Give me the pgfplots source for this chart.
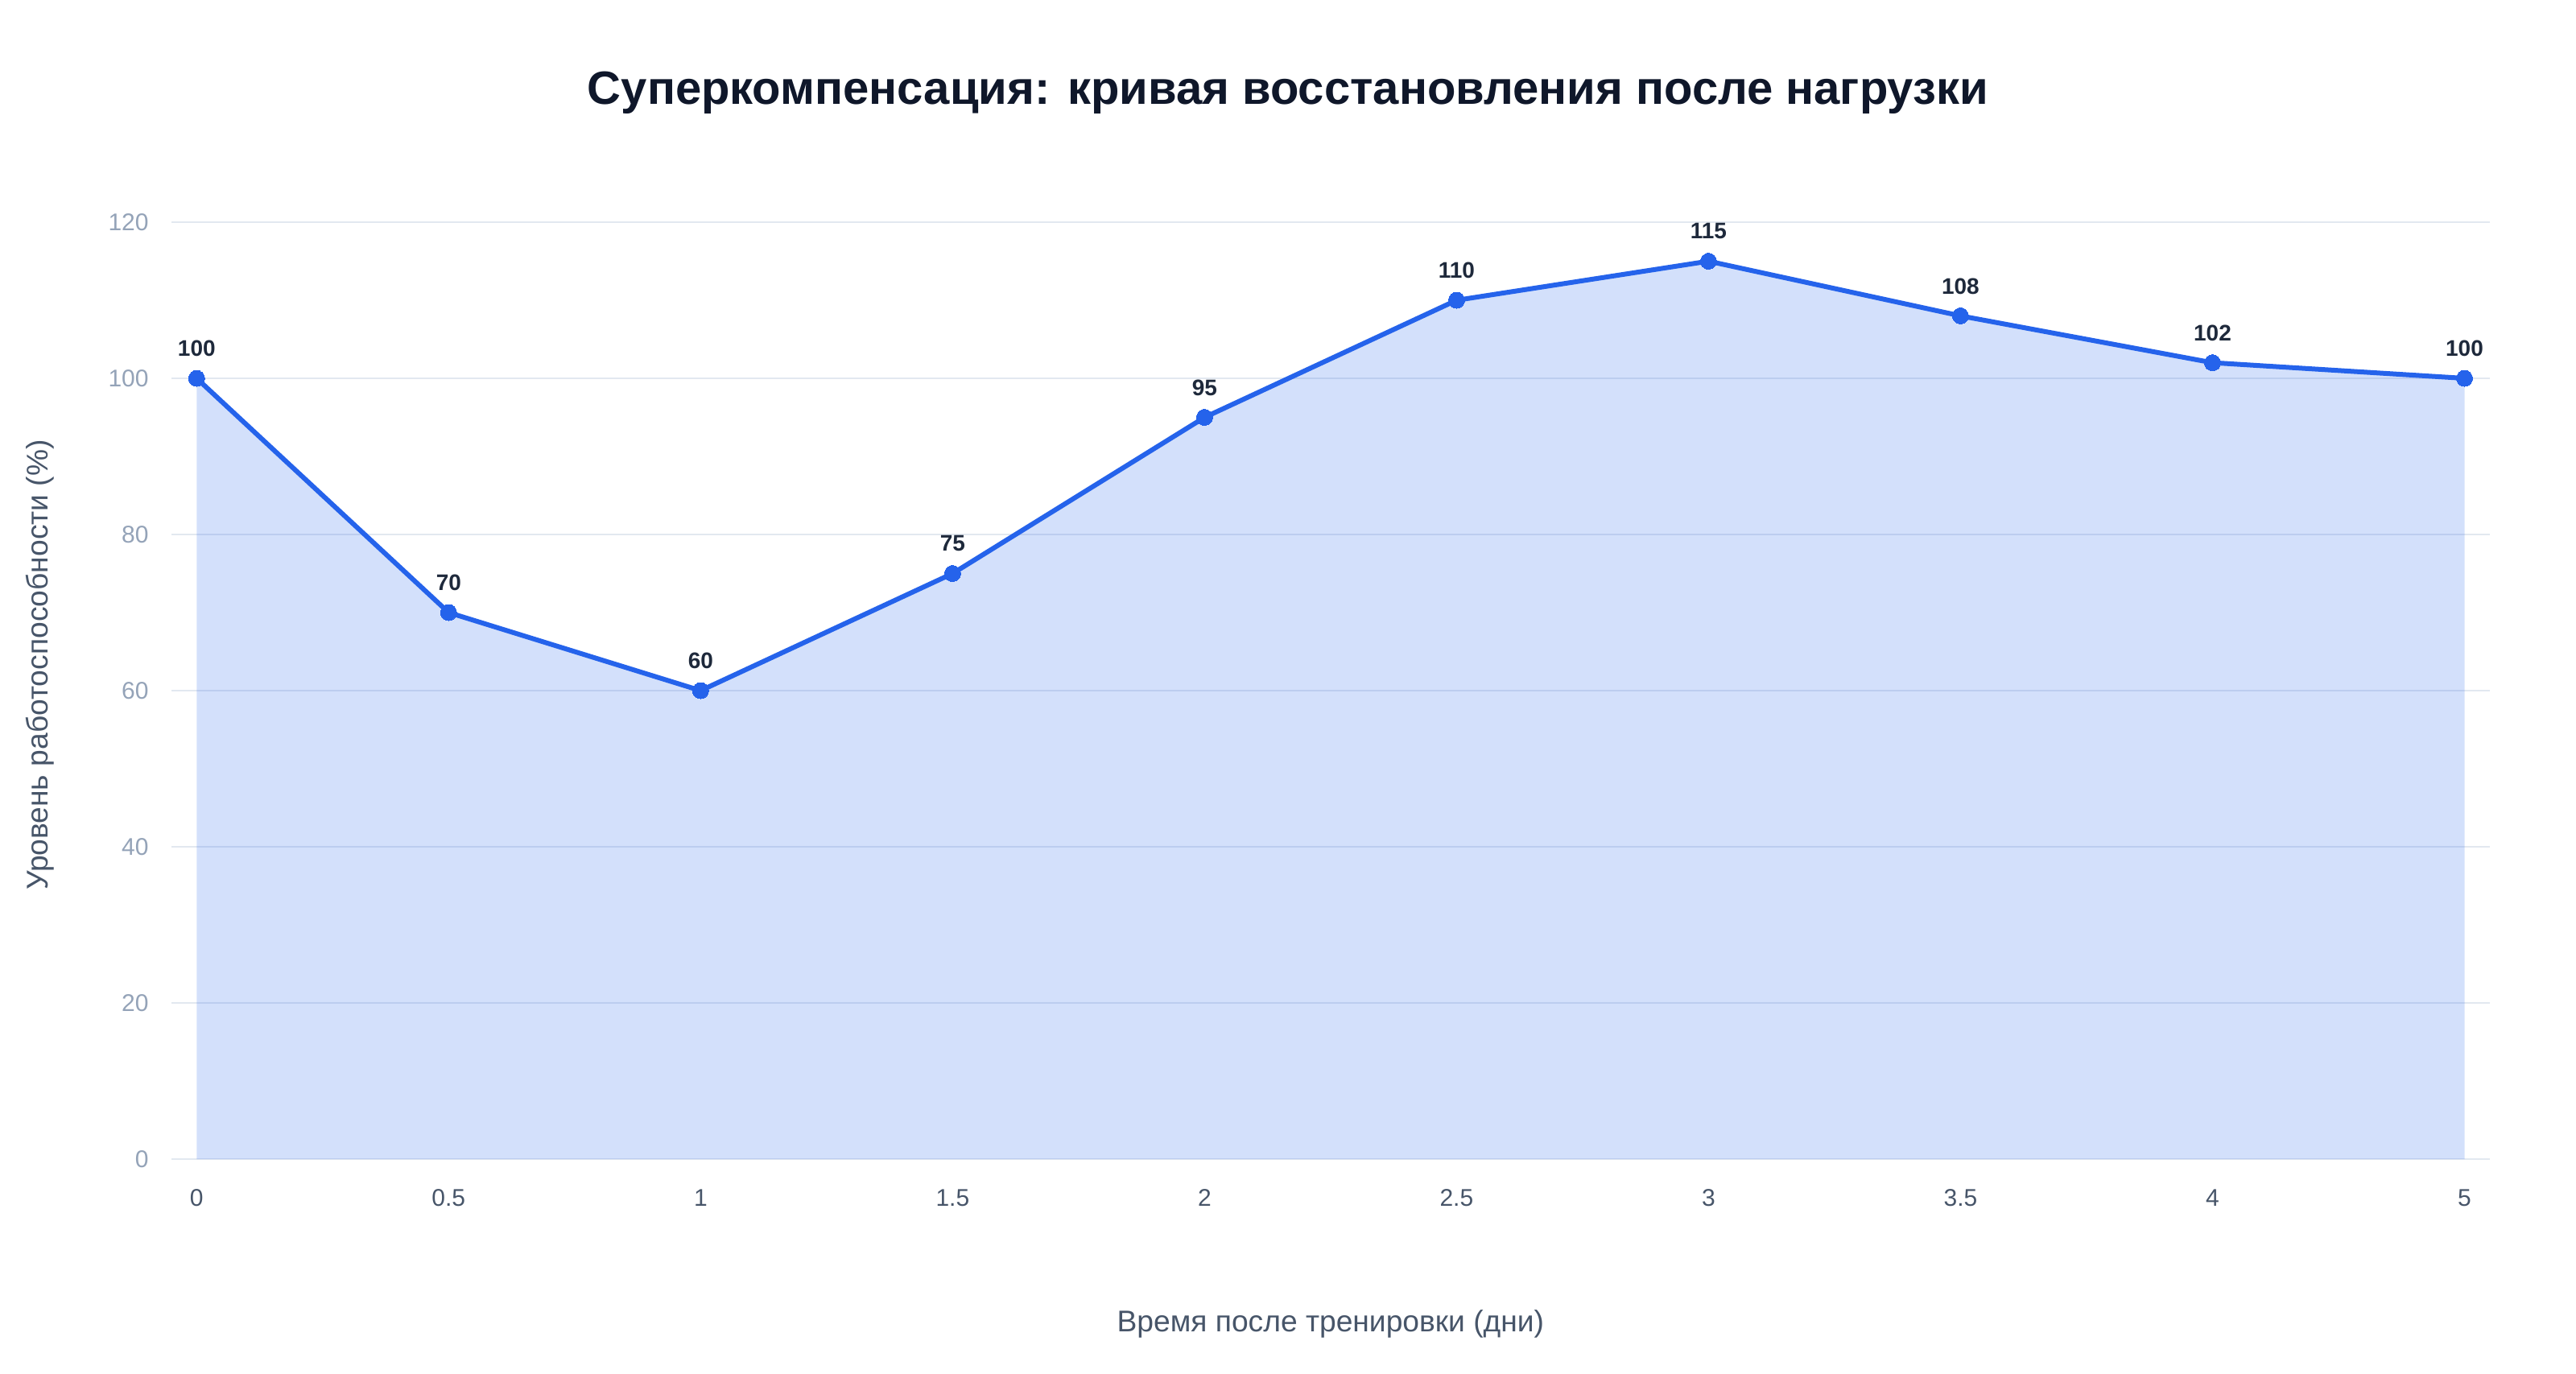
\documentclass[border=0pt]{standalone}
\usepackage{fontspec}
\setmainfont{Liberation Sans}
\usepackage{pgfplots}
\pgfplotsset{compat=1.18}
\definecolor{linecol}{HTML}{2563EB}
\definecolor{titlecol}{HTML}{0F172A}
\definecolor{labcol}{HTML}{1E293B}
\definecolor{axcol}{HTML}{475569}
\definecolor{ytcol}{HTML}{94A3B8}
\definecolor{gridcol}{HTML}{E2E8F0}
\pgfplotstableread{
x y
0 100
1 70
2 60
3 75
4 95
5 110
6 115
7 108
8 102
9 100
}\datatable
\begin{document}
\begin{tikzpicture}
\path[use as bounding box] (0,0) rectangle (1600pt,853.5pt);
\begin{axis}[
  at={(106.5pt,133.5pt)}, anchor=south west,
  scale only axis, width=1440pt, height=614pt,
  xmin=-0.1, xmax=9.1, ymin=0, ymax=126.6,
  clip=false,
  /pgf/number format/assume math mode=true,
  axis line style={draw=none},
  major tick length=0pt,
  xtick={0,...,9},
  xticklabels={0,0.5,1,1.5,2,2.5,3,3.5,4,5},
  ytick={0,20,40,60,80,100,120},
  ymajorgrids,
  grid style={gridcol, line width=1.2pt},
  xticklabel style={anchor=base, yshift=-29pt, inner sep=0pt, font=\fontsize{15}{18}\selectfont, text=axcol},
  yticklabel style={anchor=east, xshift=-14pt, inner sep=0pt, font=\fontsize{15}{18}\selectfont, text=ytcol},
  title={Суперкомпенсация: кривая восстановления после нагрузки},
  title style={at={(axis description cs:0.4816,1.0578)}, anchor=base, inner sep=0pt, font=\fontsize{29}{33}\selectfont\bfseries, text=titlecol},
  xlabel={Время после тренировки (дни)},
  xlabel style={at={(axis description cs:0.5,-0.167)}, anchor=center, font=\fontsize{18.6}{21}\selectfont, text=axcol},
  ylabel={Уровень работоспособности (\%)},
  ylabel style={at={(axis description cs:-0.0566,0.5)}, anchor=center, rotate=0, font=\fontsize{18.6}{21}\selectfont, text=axcol},
]
\addplot[draw=none, fill=linecol, fill opacity=0.2] table[x=x,y=y] {\datatable} \closedcycle;
\addplot[linecol, line width=3pt, mark=*, mark size=5pt, mark options={fill=linecol, draw=linecol, line width=0pt},
  nodes near coords,
  nodes near coords style={anchor=center, yshift=18.5pt, inner sep=0pt, font=\fontsize{14}{16}\selectfont\bfseries, text=labcol}]
  table[x=x,y=y] {\datatable};
\end{axis}
\end{tikzpicture}
\end{document}
